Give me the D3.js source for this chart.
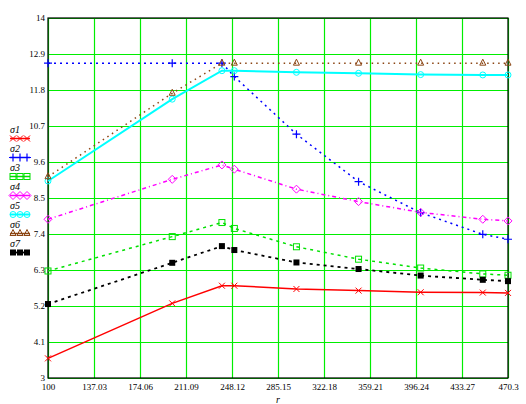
<!DOCTYPE html>
<html>
<head>
<meta charset="utf-8">
<script src="https://cdn.jsdelivr.net/npm/d3@7"></script>
<style>
  body { margin: 0; background: #fff; }
  svg text { font-family: 'Liberation Serif', 'DejaVu Serif', serif; }
</style>
</head>
<body>
<div id="chart"></div>
<script>
const width = 526;
const height = 404;
const margin = { left: 48, right: 18, top: 18, bottom: 26 };

// data
const rValues = [100, 200, 240, 250, 300, 350, 400, 450, 470.3];
const sigma1 = [3.60, 5.28, 5.82, 5.82, 5.72, 5.67, 5.62, 5.61, 5.60];
const sigma2 = [12.62, 12.62, 12.62, 12.21, 10.45, 9.00, 8.05, 7.39, 7.24];
const sigma3 = [6.27, 7.32, 7.75, 7.57, 7.01, 6.63, 6.36, 6.18, 6.14];
const sigma4 = [7.85, 9.07, 9.51, 9.38, 8.77, 8.39, 8.06, 7.85, 7.80];
const sigma5 = [9.02, 11.52, 12.39, 12.39, 12.34, 12.31, 12.27, 12.26, 12.26];
const sigma6 = [9.15, 11.70, 12.62, 12.62, 12.62, 12.62, 12.62, 12.62, 12.62];
const sigma7 = [5.26, 6.52, 7.03, 6.91, 6.53, 6.33, 6.13, 6.00, 5.96];

const xTicks = [100, 137.03, 174.06, 211.09, 248.12, 285.15, 322.18, 359.21, 396.24, 433.27, 470.3];
const yTicks = [3, 4.1, 5.2, 6.3, 7.4, 8.5, 9.6, 10.7, 11.8, 12.9, 14];
const seriesNames = ['σ1', 'σ2', 'σ3', 'σ4', 'σ5', 'σ6', 'σ7'];

const series = [
  { name: seriesNames[0], values: sigma1, color: '#ff0000', dash: null, width: 1.5, marker: 'x' },
  { name: seriesNames[1], values: sigma2, color: '#0000ff', dash: '2,4', width: 1.5, marker: 'plus' },
  { name: seriesNames[2], values: sigma3, color: '#00e000', dash: '3,4', width: 1.5, marker: 'square' },
  { name: seriesNames[3], values: sigma4, color: '#ff00ff', dash: '4,3,1,3', width: 1.5, marker: 'diamond' },
  { name: seriesNames[4], values: sigma5, color: '#00ffff', dash: null, width: 2, marker: 'circle' },
  { name: seriesNames[5], values: sigma6, color: '#8b4513', dash: '1.5,4', width: 1.5, marker: 'triangle' },
  { name: seriesNames[6], values: sigma7, color: '#000000', dash: '3,4', width: 1.8, marker: 'fsquare' },
];

const x = d3.scaleLinear().domain([100, 470.3]).range([margin.left, width - margin.right]);
const y = d3.scaleLinear().domain([3, 14]).range([height - margin.bottom, margin.top]);

const svg = d3.select('#chart').append('svg')
  .attr('width', width)
  .attr('height', height);

// grid + tick labels
const xAxis = svg.append('g')
  .attr('transform', `translate(0,${y(3)})`)
  .call(d3.axisBottom(x).tickValues(xTicks).tickFormat(d => String(d))
    .tickSize(-(y(3) - y(14))).tickPadding(6));
const yAxis = svg.append('g')
  .attr('transform', `translate(${x(100)},0)`)
  .call(d3.axisLeft(y).tickValues(yTicks).tickFormat(d => String(d))
    .tickSize(-(x(470.3) - x(100))).tickPadding(3));

[xAxis, yAxis].forEach(a => {
  a.select('.domain').remove();
  a.selectAll('line').attr('stroke', '#00ee00').attr('stroke-width', 1.2);
  a.selectAll('text').attr('fill', '#000').style('font-size', '9px');
});

// frame
svg.append('rect')
  .attr('x', x(100)).attr('y', y(14))
  .attr('width', x(470.3) - x(100)).attr('height', y(3) - y(14))
  .attr('fill', 'none').attr('stroke', '#000').attr('stroke-width', 1.2);

svg.append('text')
  .attr('x', x(285.15)).attr('y', 403)
  .attr('text-anchor', 'middle')
  .style('font-size', '10px').style('font-style', 'italic')
  .text('r');

function drawMarker(g, type, cx, cy, color) {
  const s = 3;
  if (type === 'x') {
    g.append('path').attr('d', `M${cx - s},${cy - s}L${cx + s},${cy + s}M${cx - s},${cy + s}L${cx + s},${cy - s}`)
      .attr('stroke', color).attr('stroke-width', 1).attr('fill', 'none');
  } else if (type === 'plus') {
    g.append('path').attr('d', `M${cx - s - 1},${cy}L${cx + s + 1},${cy}M${cx},${cy - s - 1}L${cx},${cy + s + 1}`)
      .attr('stroke', color).attr('stroke-width', 1.2).attr('fill', 'none');
  } else if (type === 'square') {
    g.append('rect').attr('x', cx - s).attr('y', cy - s).attr('width', 2 * s).attr('height', 2 * s)
      .attr('stroke', color).attr('stroke-width', 1).attr('fill', 'none');
  } else if (type === 'fsquare') {
    g.append('rect').attr('x', cx - s).attr('y', cy - s).attr('width', 2 * s).attr('height', 2 * s)
      .attr('fill', color);
  } else if (type === 'diamond') {
    g.append('path').attr('d', `M${cx},${cy - s - 1}L${cx + s + 1},${cy}L${cx},${cy + s + 1}L${cx - s - 1},${cy}Z`)
      .attr('stroke', color).attr('stroke-width', 1).attr('fill', 'none');
  } else if (type === 'circle') {
    g.append('circle').attr('cx', cx).attr('cy', cy).attr('r', s)
      .attr('stroke', color).attr('stroke-width', 1).attr('fill', 'none');
  } else if (type === 'triangle') {
    g.append('path').attr('d', `M${cx},${cy - s - 1}L${cx + s},${cy + s - 1}L${cx - s},${cy + s - 1}Z`)
      .attr('stroke', color).attr('stroke-width', 1).attr('fill', 'none');
  }
}

const line = d3.line().x(d => x(d[0])).y(d => y(d[1]));

series.forEach(s => {
  const pts = rValues.map((r, i) => [r, s.values[i]]);
  const g = svg.append('g');
  g.append('path')
    .attr('d', line(pts))
    .attr('fill', 'none')
    .attr('stroke', s.color)
    .attr('stroke-width', s.width)
    .attr('stroke-dasharray', s.dash);
  pts.forEach(p => drawMarker(g, s.marker, x(p[0]), y(p[1]), s.color));
});

// legend
const legend = svg.append('g');
series.forEach((s, i) => {
  const ly = 132.5 + i * 19;
  legend.append('text')
    .attr('x', 10).attr('y', ly)
    .style('font-size', '10px').style('font-style', 'italic')
    .text(s.name);
  legend.append('line')
    .attr('x1', 10).attr('x2', 30).attr('y1', ly + 6).attr('y2', ly + 6)
    .attr('stroke', s.color).attr('stroke-width', s.width);
  [13, 20, 27].forEach(mx => drawMarker(legend, s.marker, mx, ly + 6, s.color));
});
</script>
</body>
</html>
